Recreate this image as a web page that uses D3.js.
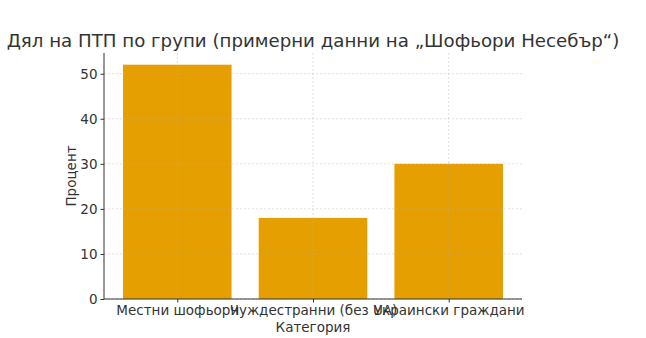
<!DOCTYPE html>
<html>
  <head>
    <meta charset="utf-8" />
    <script src="https://d3js.org/d3.v7.min.js"></script>
    <style>
      body { margin: 0; background: #fff; }
      text { font-family: "DejaVu Sans", sans-serif; fill: #333; }
    </style>
  </head>
  <body>
    <svg id="chart" width="646" height="338"></svg>
    <script>
      var categories = ["Местни шофьори", "Чуждестранни (без UA)", "Украински граждани"];
      var values = [52, 18, 30];
      var yTicks = [0, 10, 20, 30, 40, 50];

      var mLeft = 104, mRight = 522, mTop = 53, mBottom = 299;
      var svg = d3.select("#chart");

      var x = d3.scaleLinear().domain([-0.54, 2.54]).range([mLeft, mRight]);
      var y = d3.scaleLinear().domain([0, 54.6]).range([mBottom, mTop]);

      // bars
      svg.selectAll("rect.bar")
        .data(values)
        .enter()
        .append("rect")
        .attr("class", "bar")
        .attr("x", function (d, i) { return x(i - 0.4); })
        .attr("width", function () { return x(0.4) - x(-0.4); })
        .attr("y", function (d) { return y(d); })
        .attr("height", function (d) { return y(0) - y(d); })
        .style("fill", "#e69f00");

      // grid (on top of bars, like the original)
      var grid = svg.append("g");
      grid.selectAll("line.h")
        .data(yTicks)
        .enter()
        .append("line")
        .attr("x1", mLeft).attr("x2", mRight)
        .attr("y1", function (d) { return y(d); })
        .attr("y2", function (d) { return y(d); })
        .style("stroke", "#b0b0b0")
        .style("stroke-opacity", 0.5)
        .style("stroke-dasharray", "2,2")
        .style("stroke-width", 0.8);
      grid.selectAll("line.v")
        .data(categories)
        .enter()
        .append("line")
        .attr("x1", function (d, i) { return x(i); })
        .attr("x2", function (d, i) { return x(i); })
        .attr("y1", mTop).attr("y2", mBottom)
        .style("stroke", "#b0b0b0")
        .style("stroke-opacity", 0.5)
        .style("stroke-dasharray", "2,2")
        .style("stroke-width", 0.8);

      // axes
      var yAxis = d3.axisLeft(y).tickValues(yTicks).tickSize(3.5).tickPadding(3);
      var xAxis = d3.axisBottom(x).tickValues([0, 1, 2])
        .tickFormat(function (d) { return categories[d]; })
        .tickSize(3.5).tickPadding(3);

      var gy = svg.append("g").attr("transform", "translate(" + mLeft + ",0)").call(yAxis);
      var gx = svg.append("g").attr("transform", "translate(0," + mBottom + ")").call(xAxis);
      [gy, gx].forEach(function (g) {
        g.select(".domain").attr("d", null);
        g.selectAll(".tick line").style("stroke", "#333");
        g.selectAll(".tick text").style("font-size", "13.5px").style("fill", "#333")
          .style("font-family", "DejaVu Sans, sans-serif");
      });
      svg.append("line").attr("x1", mLeft).attr("x2", mLeft).attr("y1", mTop).attr("y2", mBottom)
        .style("stroke", "#333").style("stroke-width", 1);
      svg.append("line").attr("x1", mLeft).attr("x2", mRight).attr("y1", mBottom).attr("y2", mBottom)
        .style("stroke", "#333").style("stroke-width", 1);

      // labels
      svg.append("text")
        .attr("x", 313).attr("y", 47)
        .attr("text-anchor", "middle")
        .style("font-size", "18.2px")
        .text("Дял на ПТП по групи (примерни данни на „Шофьори Несебър“)");
      svg.append("text")
        .attr("x", 313).attr("y", 332)
        .attr("text-anchor", "middle")
        .style("font-size", "13.5px")
        .text("Категория");
      svg.append("text")
        .attr("transform", "translate(76," + (mTop + mBottom) / 2 + ") rotate(-90)")
        .attr("text-anchor", "middle")
        .style("font-size", "13.5px")
        .text("Процент");
    </script>
  </body>
</html>
